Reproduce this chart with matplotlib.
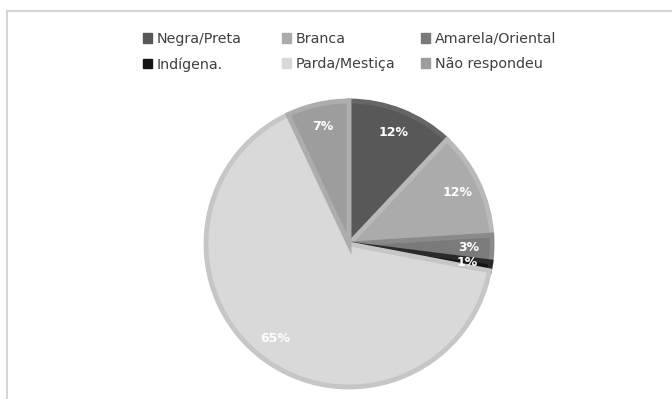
import matplotlib
matplotlib.use("Agg")
import matplotlib.pyplot as plt
from matplotlib.patches import Patch
from matplotlib.lines import Line2D

categories = ["Negra/Preta", "Branca", "Amarela/Oriental", "Indígena.", "Parda/Mestiça", "Não respondeu"]
values = [12, 12, 3, 1, 65, 7]
fill_colors = ["#585858", "#ababab", "#7a7a7a", "#141414", "#d9d9d9", "#9d9d9d"]
edge_colors = ["#666666", "#b9b9b9", "#8a8a8a", "#2a2a2a", "#c6c6c6", "#adadad"]

W, H = 672, 399
fig = plt.figure(figsize=(W / 100, H / 100), dpi=100)
fig.patch.set_facecolor("white")

# chart frame (top and left border)
fig.add_artist(Line2D([7 / W, 1], [1 - 11 / H, 1 - 11 / H], color="#d6d6d6", lw=1.5))
fig.add_artist(Line2D([7 / W, 7 / W], [0, 1 - 11 / H], color="#d6d6d6", lw=1.5))

cx, cy, r = 349, 244, 143
ax = fig.add_axes([(cx - r) / W, 1 - (cy + r) / H, 2 * r / W, 2 * r / H])
wedges, texts, autotexts = ax.pie(
    values,
    colors=fill_colors,
    startangle=90,
    counterclock=False,
    autopct=lambda p: f"{p:.0f}%",
    pctdistance=0.84,
    wedgeprops=dict(linewidth=3.5),
    textprops=dict(color="white", fontweight="bold", fontsize=9),
)
for w, ec in zip(wedges, edge_colors):
    w.set_edgecolor(ec)
    w.set_joinstyle("miter")
ax.set_xlim(-1, 1)
ax.set_ylim(-1, 1)
ax.set_aspect("equal")
ax.axis("off")

# legend: two rows, three fixed-width columns
handles = [Patch(facecolor=c, edgecolor=c) for c in fill_colors]
col_x = [143, 282, 421]
for col, x in enumerate(col_x):
    idx = [col, col + 3]
    fig.legend(
        [handles[i] for i in idx],
        [categories[i] for i in idx],
        ncol=1,
        loc="upper left",
        bbox_to_anchor=(x / W, 1 - 32 / H),
        frameon=False,
        borderpad=0.0,
        borderaxespad=0.0,
        handlelength=0.65,
        handleheight=0.65,
        handletextpad=0.3,
        labelspacing=0.78,
        prop=dict(family="DejaVu Sans", size=10.3),
        labelcolor="#404040",
    )

fig.savefig("out.png", dpi=100, facecolor="white")
